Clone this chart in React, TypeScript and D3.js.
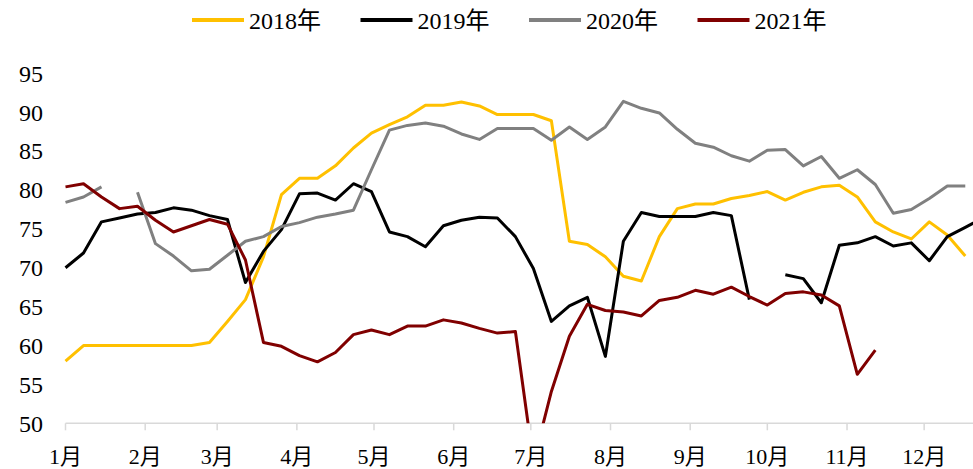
import React from "react";
import * as d3 from "d3";

// weekly readings, week 0 = Jan 1
const y2018 = [58.0, 60.0, 60.0, 60.0, 60.0, 60.0, 60.0, 60.0, 60.4, 63.1, 65.9, 71.4, 79.4, 81.5, 81.5, 83.1, 85.4, 87.3, 88.4, 89.4, 90.9, 90.9, 91.3, 90.8, 89.7, 89.7, 89.7, 88.9, 73.4, 73.0, 71.4, 68.9, 68.3, 74.0, 77.6, 78.2, 78.2, 78.9, 79.3, 79.8, 78.7, 79.7, 80.4, 80.6, 79.1, 75.9, 74.6, 73.7, 75.9, 74.2, 71.5];
const y2019 = [70.0, 71.9, 75.9, 76.4, 76.9, 77.1, 77.7, 77.4, 76.7, 76.2, 68.1, 72.1, 74.9, 79.5, 79.6, 78.7, 80.8, 79.8, 74.6, 74.0, 72.7, 75.4, 76.1, 76.5, 76.4, 74.0, 69.9, 63.1, 65.1, 66.2, 58.6, 73.4, 77.1, 76.6, 76.6, 76.6, 77.1, 76.7, 65.9, null, 69.1, 68.6, 65.5, 72.9, 73.2, 74.0, 72.8, 73.2, 70.9, 74.0, 75.2, 76.4];
const y2020 = [78.4, 79.1, 80.4, null, 79.7, 73.1, 71.5, 69.6, 69.8, 71.6, 73.4, 74.0, 75.3, 75.8, 76.5, 76.9, 77.4, 82.6, 87.7, 88.3, 88.6, 88.2, 87.2, 86.5, 87.9, 87.9, 87.9, 86.4, 88.1, 86.5, 88.1, 91.4, 90.5, 89.9, 87.8, 86.0, 85.5, 84.4, 83.7, 85.1, 85.2, 83.1, 84.3, 81.5, 82.6, 80.7, 77.0, 77.5, 78.9, 80.5, 80.5];
const y2021 = [80.4, 80.8, 79.1, 77.6, 77.9, 76.1, 74.6, 75.4, 76.2, 75.6, 71.0, 60.4, 59.9, 58.7, 57.9, 59.1, 61.4, 62.0, 61.4, 62.5, 62.5, 63.3, 62.9, 62.2, 61.6, 61.8, 45.0, 54.1, 61.2, 65.3, 64.5, 64.3, 63.8, 65.8, 66.2, 67.1, 66.6, 67.5, 66.3, 65.2, 66.7, 66.9, 66.5, 65.1, 56.3, 59.4];

const seriesNames = ["2018年", "2019年", "2020年", "2021年"];
const seriesColors = ["#FFC000", "#000000", "#808080", "#800000"];
const seriesValues = [y2018, y2019, y2020, y2021];
const yTicks = [50, 55, 60, 65, 70, 75, 80, 85, 90, 95];

const width = 973;
const height = 469;
const font = "'Liberation Serif', 'Times New Roman', 'Noto Sans CJK SC', serif";

export default function App() {
  const start = new Date(2021, 0, 1);
  const x = d3
    .scaleTime()
    .domain([start, new Date(2021, 11, 20)])
    .range([65.5, 973]);
  const y = d3.scaleLinear().domain([50, 95]).range([423.3, 73.3]);

  const months = x.ticks(d3.timeMonth.every(1)).filter((d) => d.getMonth() >= 0);

  const line = d3
    .line<number | null>()
    .defined((d) => d !== null)
    .x((_, i) => x(d3.timeDay.offset(start, 7 * i)))
    .y((d) => y(d as number));

  return (
    <svg
      width={width}
      height={height}
      style={{ position: "absolute", left: 0, top: 0, background: "#fff" }}
      fontFamily={font}
    >
      <defs>
        <clipPath id="plot">
          <rect x={0} y={y(95) - 20} width={width} height={y(50) - y(95) + 20} />
        </clipPath>
      </defs>

      {/* legend */}
      {seriesNames.map((name, i) => (
        <g key={name} transform={`translate(${192 + i * 168.5},0)`}>
          <line x1={0} x2={52} y1={20} y2={20} stroke={seriesColors[i]} strokeWidth={4} />
          <text x={57} y={29} fontSize={24} fill="#000">
            {name}
          </text>
        </g>
      ))}

      {/* y labels */}
      {yTicks.map((t) => (
        <text key={t} x={43} y={y(t)} dy="0.35em" textAnchor="end" fontSize={24} fill="#000">
          {t}
        </text>
      ))}

      {/* x axis */}
      <line x1={x.range()[0]} x2={width} y1={y(50)} y2={y(50)} stroke="#d9d9d9" strokeWidth={1.5} />
      {months.map((m) => (
        <g key={m.getMonth()} transform={`translate(${x(m)},0)`}>
          <line y1={y(50)} y2={y(50) + 7} stroke="#d9d9d9" strokeWidth={1.5} />
          <text y={464} textAnchor="middle" fontSize={22} fill="#000">
            {`${m.getMonth() + 1}月`}
          </text>
        </g>
      ))}

      {/* lines */}
      <g clipPath="url(#plot)">
        {seriesValues.map((vals, i) => (
          <path
            key={seriesNames[i]}
            d={line(vals) ?? ""}
            fill="none"
            stroke={seriesColors[i]}
            strokeWidth={3}
            strokeLinejoin="round"
          />
        ))}
      </g>
    </svg>
  );
}
